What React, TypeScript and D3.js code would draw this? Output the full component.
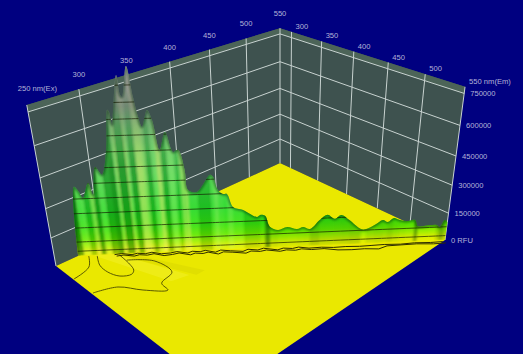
import React from 'react';
import * as d3 from 'd3';

const width = 523;
const height = 354;

// tick labels
const exTicks = [250, 300, 350, 400, 450, 500, 550];
const emTicks = [300, 350, 400, 450, 500, 550];
const rfuTicks = [0, 150000, 300000, 450000, 600000, 750000];
const contourLevels = [25000, 75000, 150000, 225000, 300000, 375000, 450000, 525000, 600000, 675000, 750000, 825000];

// ridge along the scatter line
const ridgeEx = [274, 278.7, 281.6, 283.7, 288.7, 291, 295, 299, 304, 308, 309, 310, 311, 316.4, 317.5, 318.6, 323.3, 325.7, 327.7, 329.6, 334, 336.7, 340, 344.6, 349, 352.5, 356, 357.4, 363.6, 373.5, 375.5, 378.5, 382, 384.8, 388.8, 396, 406, 408.4, 412, 415.5, 421.5, 428.3, 435.7, 440.2, 445.4, 452.5, 458.3, 463.6, 468.6, 474.8, 484, 488, 494.4, 500.3, 504, 508.5, 513.2, 518.6, 524.8, 527.5, 536.7, 542, 544.5, 547.8, 550];
const ridgeRfu = [0, 361000, 335000, 305000, 378000, 318000, 455000, 416000, 535000, 718000, 709000, 650000, 682000, 869000, 783000, 774000, 906000, 773000, 683000, 637000, 713000, 667000, 527000, 611000, 515000, 524000, 426000, 325000, 313000, 397000, 386000, 320000, 298000, 297000, 229000, 211000, 171000, 181000, 175000, 115000, 96000, 110000, 97000, 107000, 94000, 141000, 167000, 144000, 164000, 134000, 82000, 81000, 102000, 127000, 115000, 136000, 123000, 116000, 120000, 85000, 88000, 87000, 75000, 113000, 100000];

// low contours on the floor, [ex, em]
const floorContourA = [[250.8, 314.4], [271, 306.8], [281, 288.7]];
const floorContourB = [[287, 295], [280, 312], [279, 329], [283.4, 344.3], [293, 350.3], [298, 345.7], [301, 333.4], [303, 311.3]];
const floorContourC = [[303, 324.8], [321, 348], [321.5, 377.6], [304, 385.8], [301.7, 399.9], [285.7, 381.6], [272.4, 359], [251.3, 349.4]];

// wiggly contours just in front of the ridge, em offset from the ridge line
const footEx = [300, 306, 312, 317, 322, 328, 333, 340, 346, 352, 357, 362, 367, 372, 378, 384, 392, 398, 404, 410, 418, 424, 430, 436, 442, 452, 460, 470, 480, 490, 500, 512, 524, 536, 546];
const footNear = [1, -1, 3, 0, 2, -1, 4, 3, 0, 5, 1, 3, 0, 6, 1, 4, 7, 2, 5, 1, 7, 3, 5, 2, 6, 5, 7, 6, 7, 6, 5, 6, 4, 5, 4];
const footFar = [5, 3, 7, 4, 6, 3, 9, 7, 4, 10, 6, 8, 5, 11, 6, 8, 12, 7, 9, 6, 11, 8, 10, 7, 10, 9, 14, 15, 14, 16, 9, 8, 7, 9, 8];

const exScale = d3.scaleLinear().domain([250, 550]).range([0, 1]);
const emScale = d3.scaleLinear().domain([280, 550]).range([0, 1]);
const rfuScale = d3.scaleLinear().domain([0, 750000]).range([0, -0.111]);
const ridgeEm = d3.scaleLinear().domain([274, 550]).range([280, 550]);

// floor corners on screen: ex250/em280, ex550/em280, ex550/em550, ex250/em550
const q = [[56, 266], [280, 163], [445, 240], [220, 393]];
const vanish = [280, 1500];

const dx1 = q[1][0] - q[2][0], dx2 = q[3][0] - q[2][0], sx = q[0][0] - q[1][0] + q[2][0] - q[3][0];
const dy1 = q[1][1] - q[2][1], dy2 = q[3][1] - q[2][1], sy = q[0][1] - q[1][1] + q[2][1] - q[3][1];
const den = dx1 * dy2 - dx2 * dy1;
const g = (sx * dy2 - dx2 * sy) / den;
const h = (dx1 * sy - sx * dy1) / den;
const a = q[1][0] - q[0][0] + g * q[1][0];
const b = q[3][0] - q[0][0] + h * q[3][0];
const d = q[1][1] - q[0][1] + g * q[1][1];
const e = q[3][1] - q[0][1] + h * q[3][1];

const project = (ex: number, em: number, rfu = 0): [number, number] => {
  const u = exScale(ex), v = emScale(em), z = rfuScale(rfu);
  const w = g * u + h * v + 1 + z;
  return [
    (a * u + b * v + q[0][0] + z * vanish[0]) / w,
    (d * u + e * v + q[0][1] + z * vanish[1]) / w
  ];
};

const poly = (pts: [number, number][]) => 'M' + pts.map(p => p.join(',')).join('L') + 'Z';
const link = d3.line().curve(d3.curveLinear);
const smooth = d3.line().curve(d3.curveCatmullRom.alpha(0.5));

const wallTop = 780000;
const ridgeTop = ridgeEx.map((x, i) => project(x, ridgeEm(x), ridgeRfu[i]));
const ridgeBase = ridgeEx.map(x => project(x, ridgeEm(x), 0));
const surfacePath = d3.area()
  .curve(d3.curveCatmullRom.alpha(0.5))
  .x0((_, i) => ridgeBase[i][0]).y0((_, i) => ridgeBase[i][1])
  .x1((_, i) => ridgeTop[i][0]).y1((_, i) => ridgeTop[i][1])(ridgeEx as any) as string;

// flanks facing the light go pale, the others go dark; the light swings round past 400 nm
const flankShade = ridgeEx.slice(1).map((x, i) => {
  const slope = (ridgeRfu[i + 1] - ridgeRfu[i]) / Math.max(x - ridgeEx[i], 0.6);
  const k = Math.max(-1, Math.min(1, slope / 40000));
  if (x > 400) return { fill: '#003c00', opacity: Math.min(0.5, Math.abs(k) * 1.2) };
  return k > 0
    ? { fill: '#006000', opacity: 0.12 + 0.4 * k }
    : { fill: k < -0.6 ? '#fff080' : '#d0ff90', opacity: 0.1 + 0.4 * -k };
});

const heightStops: [number, string][] = [
  [0, '#f0f000'], [0.03, '#d8f000'], [0.055, '#a4f000'], [0.09, '#60e800'], [0.14, '#34e010'], [0.22, '#24d828'],
  [0.4, '#44d050'], [0.55, '#5cc464'], [0.68, '#68a870'], [0.78, '#7a8c7c'], [0.9, '#9a9c98'], [1, '#d8d8d8']
];

export default function App() {
  const frameColor = '#c8d2d0';
  return (
    <svg width={width} height={height} style={{ position: 'fixed', left: 0, top: 0, background: '#000080' }}
      fontFamily="'Liberation Sans', Arial, sans-serif" fontSize={7.6}>
      <defs>
        <linearGradient id="height" gradientUnits="userSpaceOnUse" x1={260} y1={249} x2={252} y2={59}>
          {heightStops.map(([o, c]) => <stop key={o} offset={o} stopColor={c} />)}
        </linearGradient>
        <linearGradient id="lightFade" gradientUnits="userSpaceOnUse" x1={0} y1={70} x2={0} y2={170}>
          <stop offset={0} stopColor="#fff" stopOpacity={0.05} />
          <stop offset={0.4} stopColor="#fff" stopOpacity={0.25} />
          <stop offset={1} stopColor="#fff" stopOpacity={1} />
        </linearGradient>
        <mask id="lightMask" maskUnits="userSpaceOnUse" x={0} y={0} width={width} height={height}>
          <rect width={width} height={height} fill="url(#lightFade)" />
        </mask>
        <clipPath id="surface"><path d={surfacePath} /></clipPath>
        <filter id="soft" x="-5%" y="-5%" width="110%" height="110%"><feGaussianBlur stdDeviation="1.2" /></filter>
      </defs>

      {/* walls */}
      <path d={poly([project(250, 280), project(550, 280), project(550, 280, wallTop), project(250, 280, wallTop)])} fill="#3e524f" />
      <path d={poly([project(550, 280), project(550, 550), project(550, 550, wallTop), project(550, 280, wallTop)])} fill="#3e524f" />
      <path d={poly([project(250, 280, 750000), project(550, 280, 750000), project(550, 280, wallTop), project(250, 280, wallTop)])} fill="#4c6458" />
      <path d={poly([project(550, 280, 750000), project(550, 550, 750000), project(550, 550, wallTop), project(550, 280, wallTop)])} fill="#4c6458" />

      {/* grid */}
      <g stroke={frameColor} strokeWidth={1} fill="none">
        {exTicks.map(t => <path key={t} d={link([project(t, 280), project(t, 280, wallTop)]) as string} />)}
        {emTicks.map(t => <path key={t} d={link([project(550, t), project(550, t, wallTop)]) as string} />)}
        {rfuTicks.slice(1).map(t => (
          <path key={t} d={link([project(250, 280, t), project(550, 280, t), project(550, 550, t)]) as string} />
        ))}
      </g>

      {/* floor */}
      <path d={poly([project(250, 280), project(550, 280), project(550, 550), project(250, 550)])} fill="#eae800" />
      <path d={poly([project(285, 292), project(300, 300), project(330, 395), project(312, 390)])} fill="#f6f440" opacity={0.35} />
      <path d={poly([project(303, 312), project(312, 318), project(345, 400), project(335, 400)])} fill="#c8c400" opacity={0.25} />

      <g fill="none" stroke="#4a4a00" strokeWidth={0.9}>
        {[floorContourA, floorContourB, floorContourC].map((c, i) => (
          <path key={i} d={smooth(c.map(p => project(p[0], p[1]))) as string} />
        ))}
      </g>

      {/* ridge */}
      <path d={surfacePath} fill="url(#height)" />
      <g clipPath="url(#surface)">
        <g mask="url(#lightMask)">
          <g filter="url(#soft)">
            {flankShade.map((s, i) => (
              <path key={i} fill={s.fill} opacity={s.opacity}
                d={poly([ridgeBase[i], project(ridgeEx[i], ridgeEm(ridgeEx[i]), 1000000), project(ridgeEx[i + 1], ridgeEm(ridgeEx[i + 1]), 1000000), ridgeBase[i + 1]])} />
            ))}
          </g>
        </g>
        <path d={smooth(ridgeTop) as string} fill="none" stroke="#002c10" strokeWidth={3} opacity={0.5} filter="url(#soft)" />
        <g fill="none" stroke="#141a00" strokeWidth={0.9} opacity={0.75}>
          {contourLevels.map(l => (
            <path key={l} d={link(ridgeEx.map(x => project(x, ridgeEm(x), l))) as string} />
          ))}
        </g>
      </g>

      {/* foot of the ridge */}
      <g fill="none" stroke="#2e2e00" strokeWidth={1}>
        <path d={link(footEx.map((x, i) => project(x, ridgeEm(x) + footNear[i]))) as string} />
        <path d={link(footEx.map((x, i) => project(x, ridgeEm(x) + footFar[i]))) as string} />
      </g>

      {/* labels */}
      <g fill="#b4b4d8">
        {exTicks.map(t => {
          const [x, y] = project(t, 280, wallTop);
          return t === 250
            ? <text key={t} x={x - 9} y={y - 14}>250 nm(Ex)</text>
            : <text key={t} x={x} y={y - 12} textAnchor="middle">{t}</text>;
        })}
        {emTicks.map(t => {
          const [x, y] = project(550, t, wallTop);
          return <text key={t} x={x + 4} y={y - 3}>{t === 550 ? '550 nm(Em)' : t}</text>;
        })}
        {rfuTicks.map(t => {
          const [x, y] = project(550, 550, t);
          return <text key={t} x={x + 6} y={y + 3}>{t === 0 ? '0 RFU' : t}</text>;
        })}
      </g>
    </svg>
  );
}
